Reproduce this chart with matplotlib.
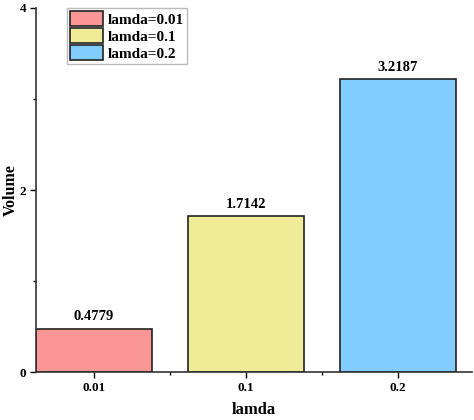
import matplotlib
matplotlib.use("Agg")
import matplotlib.pyplot as plt
from matplotlib.ticker import MultipleLocator, FixedLocator

categories = ["0.01", "0.1", "0.2"]
values = [0.4779, 1.7142, 3.2187]
legend_labels = ["lamda=0.01", "lamda=0.1", "lamda=0.2"]
colors = ["#FA9696", "#F0EB96", "#82CDFF"]

plt.rcParams["font.family"] = ["Liberation Serif", "DejaVu Serif"]
plt.rcParams["font.weight"] = "bold"

fig = plt.figure(figsize=(4.74, 4.2), dpi=100)
ax = fig.add_axes([0.076, 0.114, 0.92, 0.867])

x = list(range(len(categories)))
bars = ax.bar(x, values, width=0.765, color=colors, edgecolor="#222222", linewidth=1.2)
for b, lab in zip(bars, legend_labels):
    b.set_label(lab)
for b, v in zip(bars, values):
    ax.text(b.get_x() + b.get_width() / 2, v + 0.06, f"{v:.4f}", ha="center", va="bottom",
            fontsize=10.5, fontweight="bold")

ax.set_xlim(-0.38, 2.49)
ax.set_ylim(0, 4)
ax.set_xticks(x)
ax.set_xticklabels(categories)
ax.xaxis.set_minor_locator(FixedLocator([0.5, 1.5]))
ax.yaxis.set_major_locator(MultipleLocator(2))
ax.yaxis.set_minor_locator(MultipleLocator(1))
for s in ["top", "right"]:
    ax.spines[s].set_visible(False)
for s in ["left", "bottom"]:
    ax.spines[s].set_linewidth(1.2)
    ax.spines[s].set_color("#333333")
ax.tick_params(axis="both", which="major", length=4, width=1.0, labelsize=9.5, direction="out", pad=3)
ax.tick_params(axis="both", which="minor", length=2.5, width=1.0)
for t in ax.get_xticklabels() + ax.get_yticklabels():
    t.set_fontweight("bold")

ax.set_xlabel("lamda", fontsize=12, fontweight="bold", labelpad=6)
ax.set_ylabel("Volume", fontsize=11.5, fontweight="bold")
ax.yaxis.set_label_coords(-0.04, 0.5)

leg = ax.legend(loc="upper left", bbox_to_anchor=(0.07, 1.0), fontsize=11, frameon=True,
                fancybox=False, edgecolor="#aaaaaa", handlelength=2.2, handleheight=1.1,
                handletextpad=0.3, borderpad=0.2, labelspacing=0.1, borderaxespad=0.0)
leg.get_frame().set_linewidth(1.0)
for t in leg.get_texts():
    t.set_fontweight("bold")

fig.savefig("out.png", dpi=100)
